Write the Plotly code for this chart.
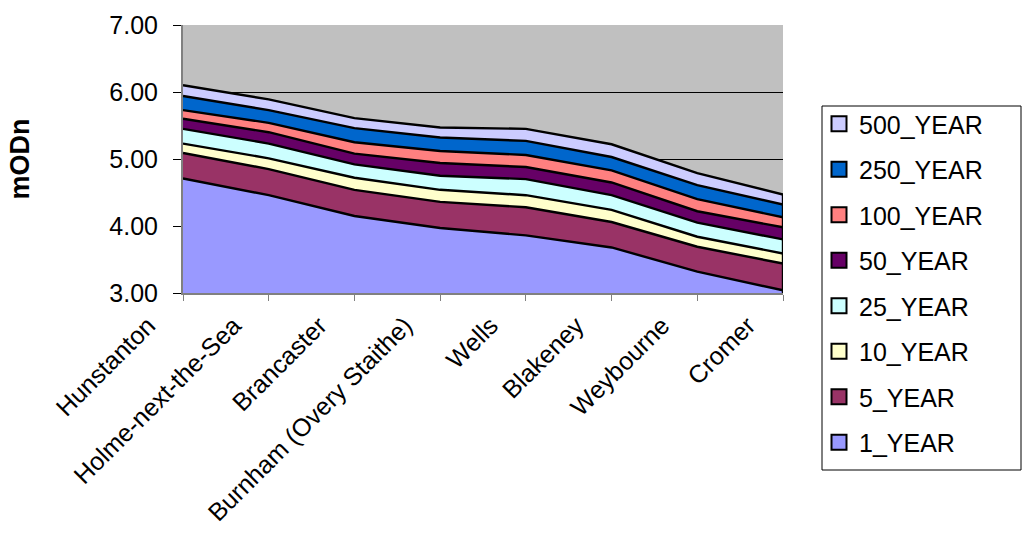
import plotly.graph_objects as go

# Locations along the coast, west to east
locations = ["Hunstanton", "Holme-next-the-Sea", "Brancaster", "Burnham (Overy Staithe)",
             "Wells", "Blakeney", "Weybourne", "Cromer"]

# Extreme still-water levels (mODn) by return period
year_1 = [4.71, 4.46, 4.15, 3.97, 3.86, 3.68, 3.32, 3.04]
year_5 = [5.09, 4.85, 4.54, 4.36, 4.28, 4.06, 3.69, 3.44]
year_10 = [5.23, 5.01, 4.72, 4.54, 4.46, 4.24, 3.84, 3.59]
year_25 = [5.45, 5.23, 4.92, 4.75, 4.70, 4.46, 4.05, 3.80]
year_50 = [5.60, 5.40, 5.08, 4.94, 4.88, 4.65, 4.22, 3.98]
year_100 = [5.73, 5.54, 5.25, 5.12, 5.06, 4.83, 4.40, 4.13]
year_250 = [5.94, 5.73, 5.46, 5.32, 5.27, 5.03, 4.61, 4.32]
year_500 = [6.10, 5.89, 5.61, 5.47, 5.45, 5.22, 4.79, 4.47]

series_names = ["500_YEAR", "250_YEAR", "100_YEAR", "50_YEAR",
                "25_YEAR", "10_YEAR", "5_YEAR", "1_YEAR"]
series_values = [year_500, year_250, year_100, year_50,
                 year_25, year_10, year_5, year_1]
series_colors = ["#CCCCFF", "#0066CC", "#FF8080", "#660066",
                 "#CCFFFF", "#FFFFCC", "#993366", "#9999FF"]

y_ticks = [3, 4, 5, 6, 7]
y_tick_text = ["3.00", "4.00", "5.00", "6.00", "7.00"]
y_min, y_max = 3, 7

FONT = "Liberation Sans, Arial, sans-serif"

fig = go.Figure()

# Overlapping (unstacked) areas: highest return period at the back
for name, vals, col in zip(series_names, series_values, series_colors):
    fig.add_trace(go.Scatter(
        x=locations, y=vals, name=name, mode="lines",
        fill="tozeroy", fillcolor=col,
        line=dict(color="black", width=2.4),
        showlegend=False, hoverinfo="x+y+name",
    ))

# Closing outline on the eastern edge of the areas
fig.add_trace(go.Scatter(
    x=[locations[-1], locations[-1]], y=[y_min, max(year_500[-1], year_1[-1])],
    mode="lines", line=dict(color="black", width=2.4),
    showlegend=False, hoverinfo="skip",
))

# Legend keys: filled squares with a black border
for name, col in zip(series_names, series_colors):
    fig.add_trace(go.Scatter(
        x=[None], y=[None], name=name, mode="markers",
        legendgroup=name,
        marker=dict(symbol="square", size=15, color=col,
                    line=dict(color="black", width=2)),
    ))

# Plot area spans x 183..783, y 25..293 in a 1024x533 page
L, R, T, B = 183, 783, 25, 293
W, H = 1024, 533
pw, ph = R - L, B - T


def px_x(x):
    return (x - L) / pw


def px_y(y):
    return (B - y) / ph


fig.update_layout(
    width=W, height=H, autosize=False,
    margin=dict(l=L, r=W - R, t=T, b=H - B, pad=0, autoexpand=False),
    paper_bgcolor="white",
    plot_bgcolor="#C0C0C0",
    font=dict(family=FONT, color="black", size=24),
    legend=dict(
        x=px_x(819), y=px_y(101), xanchor="left", yanchor="top",
        bgcolor="rgba(0,0,0,0)", borderwidth=0,
        font=dict(family=FONT, size=25, color="black"),
        tracegroupgap=10, itemwidth=30,
        traceorder="grouped", maxheight=420,
    ),
    shapes=[dict(
        type="rect", xref="paper", yref="paper",
        x0=px_x(822), x1=px_x(1021), y0=px_y(470), y1=px_y(106),
        line=dict(color="black", width=1), fillcolor="rgba(0,0,0,0)",
        layer="above",
    )],
    xaxis=dict(
        type="category", range=[0, len(locations) - 1],
        automargin=False,
        showgrid=False, zeroline=False,
        showline=True, linecolor="#808080", linewidth=2,
        ticks="outside", ticklen=6, tickcolor="#808080", tickwidth=1,
        tickangle=-45, tickfont=dict(family=FONT, size=25, color="black"),
        ticklabelshift=-35,
    ),
    yaxis=dict(
        range=[y_min, y_max], tickvals=y_ticks, ticktext=y_tick_text,
        automargin=False,
        showgrid=True, gridcolor="black", gridwidth=1,
        zeroline=False,
        showline=True, linecolor="#808080", linewidth=2,
        ticks="outside", ticklen=8, tickcolor="black", tickwidth=1,
        ticklabelstandoff=10,
        tickfont=dict(family=FONT, size=25, color="black"),
        title=dict(text="<b>mODn</b>", standoff=72,
                   font=dict(family=FONT, size=27, color="black")),
    ),
)

fig.write_html("out.html")
